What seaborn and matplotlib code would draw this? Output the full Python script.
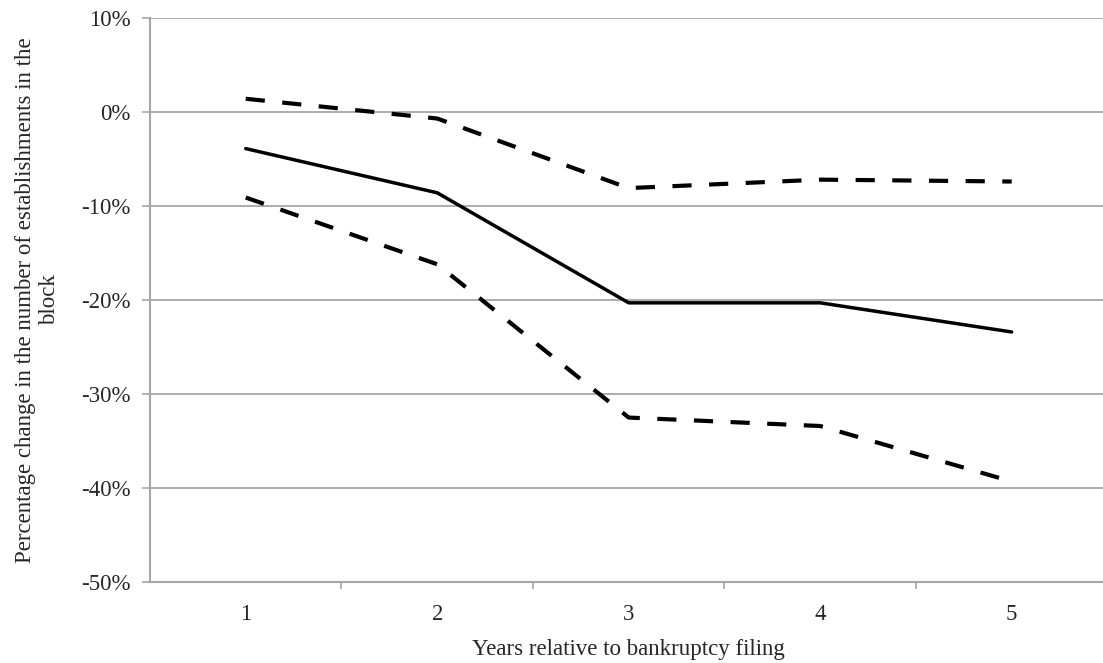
import numpy as np
import pandas as pd
import matplotlib
matplotlib.use("Agg")
import matplotlib.pyplot as plt
import seaborn as sns
from matplotlib.ticker import FixedLocator

# values (percent)
years = [1, 2, 3, 4, 5]
estimate = [-3.9, -8.6, -20.3, -20.3, -23.4]
upper_ci = [1.4, -0.7, -8.1, -7.2, -7.4]
lower_ci = [-9.1, -16.2, -32.5, -33.4, -39.3]

df = pd.DataFrame({
    "year": years * 3,
    "value": estimate + upper_ci + lower_ci,
    "series": ["estimate"] * 5 + ["upper"] * 5 + ["lower"] * 5,
})

sns.set_theme(style="white")
plt.rcParams["font.family"] = ["Liberation Serif", "DejaVu Serif"]

fig = plt.figure(figsize=(11.03, 6.63), dpi=100)
ax = fig.add_axes([0.136, 0.122, 0.868, 0.851])

grid_col = "#a6a6a6"
for yv in range(-40, 11, 10):
    ax.axhline(yv, color=grid_col, lw=1.3, zorder=0)

sns.lineplot(data=df[df.series == "estimate"], x="year", y="value",
             color="black", lw=2.5, ax=ax, zorder=3)
for s in ["upper", "lower"]:
    sns.lineplot(data=df[df.series == s], x="year", y="value",
                 color="black", lw=3.0, ax=ax, zorder=3,
                 linestyle=(0, (4.6, 4.2)))

ax.set_xlim(0.5, 5.5)
ax.set_ylim(-50, 10)
ax.set_xticks(years)
ax.set_xticklabels([str(y) for y in years])
ax.xaxis.set_minor_locator(FixedLocator([1.5, 2.5, 3.5, 4.5]))
ax.set_yticks(range(-50, 11, 10))
ax.set_yticklabels([f"{v}%" for v in range(-50, 11, 10)])

fs = 16.5
ax.tick_params(axis="x", which="major", length=0, pad=16, labelsize=fs)
ax.tick_params(axis="x", which="minor", length=5, width=1.2, color=grid_col, direction="out", bottom=True)
ax.tick_params(axis="y", length=6, width=1.2, color=grid_col, direction="out", left=True, pad=8, labelsize=fs)

for side in ["top", "right"]:
    ax.spines[side].set_visible(False)
for side in ["left", "bottom"]:
    ax.spines[side].set_color(grid_col)
    ax.spines[side].set_linewidth(1.5)

ax.set_xlabel("Years relative to bankruptcy filing", fontsize=fs, labelpad=10)
ax.set_ylabel("Percentage change in the number of establishments in the\nblock",
              fontsize=fs, labelpad=15, linespacing=1.2)
ax.grid(False)

fig.savefig("out.png", dpi=100)
